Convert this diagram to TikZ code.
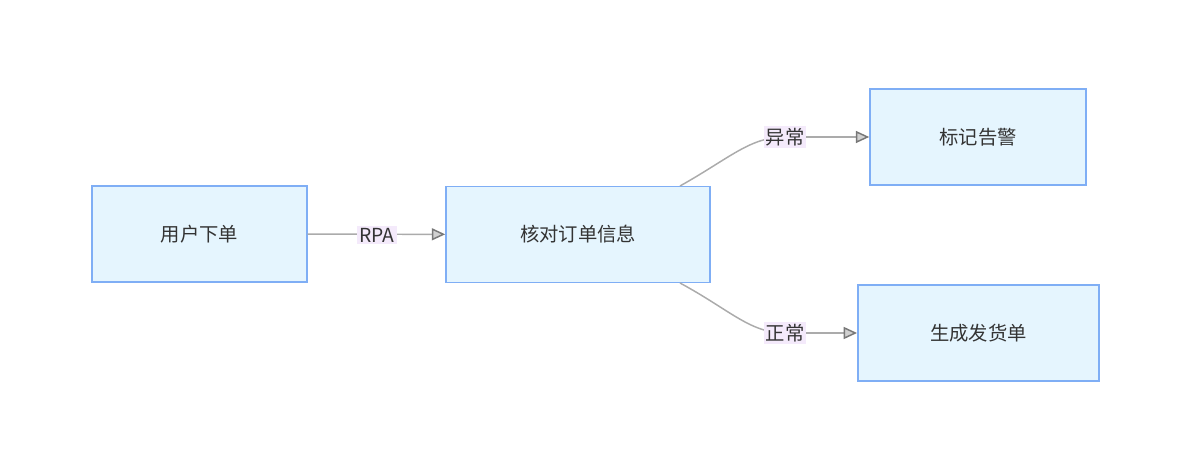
\documentclass[tikz,border=0pt]{standalone}
\usepackage{fontspec}
\setmainfont{Noto Sans CJK SC}
\usetikzlibrary{arrows.meta, positioning}
\definecolor{boxfill}{HTML}{E5F5FE}
\definecolor{boxline}{HTML}{7FAEF5}
\definecolor{tagfill}{HTML}{F4EAFB}
\definecolor{edgegray}{HTML}{ABABAB}
\definecolor{txt}{HTML}{333333}
\tikzset{
  stepbox/.style={draw=boxline, fill=boxfill, line width=1.2pt, text=txt,
    minimum height=72pt, inner sep=0pt, font=\fontsize{14.5}{17}\selectfont},
  tag/.style={fill=tagfill, text=txt, inner sep=1.5pt, font=\fontsize{14.5}{17}\selectfont},
  flow/.style={draw=edgegray, line width=1.1pt,
    -{Triangle[length=10pt, width=9pt, fill=edgegray!80!black!40, color=edgegray!70!black]}}
}
\begin{document}
\begin{tikzpicture}[x=0.75pt, y=-0.75pt]
  \useasboundingbox (0,0) rectangle (1184,466);
  \node[stepbox, minimum width=161pt] (order) at (199.5,234) {用户下单};
  \node[stepbox, minimum width=198pt] (check) at (578,234.5) {核对订单信息};
  \node[stepbox, minimum width=162pt] (alarm) at (978,137) {标记告警};
  \node[stepbox, minimum width=181pt] (ship) at (978.5,333) {生成发货单};
  \coordinate (upper) at (680,186);
  \coordinate (lower) at (680,283);
  \coordinate (t1) at (785,137);
  \coordinate (t2) at (785,333);

  \draw[flow] (order) -- (check);
  \draw[edgegray, line width=1.1pt] (upper) .. controls (730,158) and (750,137) .. (t1);
  \draw[flow] (t1) -- (alarm.west);
  \draw[edgegray, line width=1.1pt] (lower) .. controls (730,310) and (750,333) .. (t2);
  \draw[flow] (t2) -- (ship.west);

  \node[tag] at (377,235) {RPA};
  \node[tag] at (t1) {异常};
  \node[tag] at (t2) {正常};
\end{tikzpicture}
\end{document}
